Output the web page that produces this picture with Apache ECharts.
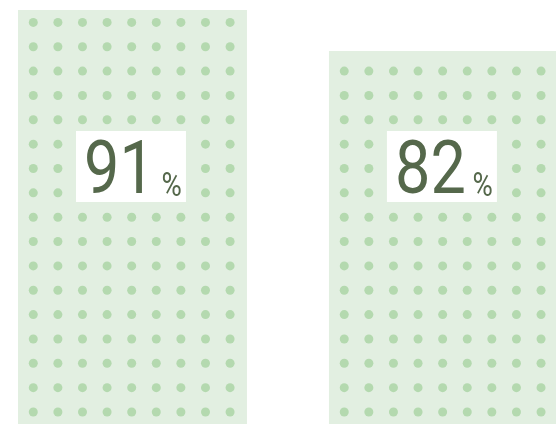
<!DOCTYPE html>
<html>
<head>
<meta charset="utf-8">
<script src="https://cdn.jsdelivr.net/npm/echarts@6/dist/echarts.min.js"></script>
<style>
  html, body { margin: 0; padding: 0; background: #fff; }
  #chart { width: 556px; height: 424px; }
</style>
</head>
<body>
<div id="chart"></div>
<script>
// data
const categories = ['A', 'B']
const values = [91, 82]
const labelTexts = ['91', '82']

// look
const BAR_BG = '#e2efe1'
const DOT_COLOR = '#b4d9af'
const TEXT_COLOR = '#55684b'
const FONT = 'Roboto, "DejaVu Sans Condensed", sans-serif'
const BAR_RATIO = 229 / 311
const DOT_R = 4.5
const DOT_DX = 24.6
const DOT_DY = 24.35
const BOX_W = 110
const BOX_H = 71
const BOX_TOP = 131

const chart = echarts.init(document.getElementById('chart'))

const renderBar = (params, api) => {
  const i = api.value(0)
  const v = api.value(1)
  const base = api.coord([i, 0])
  const top = api.coord([i, v])
  const w = api.size([1, 0])[0] * BAR_RATIO
  const x0 = base[0] - w / 2
  const x1 = base[0] + w / 2
  const y0 = top[1]
  const y1 = base[1]

  const children = [{
    type: 'rect',
    shape: { x: x0, y: y0, width: w, height: y1 - y0 },
    style: { fill: BAR_BG }
  }]

  // dot grid: columns from the left edge, rows from the bottom
  for (let cy = y1 - 12; cy - DOT_R >= y0 + 6; cy -= DOT_DY) {
    for (let cx = x0 + 15.3; cx + DOT_R <= x1 - 8; cx += DOT_DX) {
      children.push({
        type: 'circle',
        shape: { cx, cy, r: DOT_R },
        style: { fill: DOT_COLOR }
      })
    }
  }

  const cx = base[0] - 1.5
  children.push({
    type: 'rect',
    shape: { x: cx - BOX_W / 2, y: BOX_TOP, width: BOX_W, height: BOX_H },
    style: { fill: '#fff' }
  })
  children.push({
    type: 'text',
    x: cx + 2,
    y: BOX_TOP + BOX_H / 2 + 8,
    scaleX: 0.84,
    style: {
      x: 0,
      y: 0,
      text: `{n|${labelTexts[params.dataIndex]}}{p|%}`,
      align: 'center',
      verticalAlign: 'middle',
      rich: {
        n: { fontSize: 75, fontWeight: 400, fontFamily: FONT, fill: TEXT_COLOR, verticalAlign: 'bottom' },
        p: { fontSize: 33, fontWeight: 400, fontFamily: FONT, fill: TEXT_COLOR, verticalAlign: 'bottom', padding: [0, 0, 8, 8] }
      }
    }
  })

  return { type: 'group', children }
}

chart.setOption({
  animation: false,
  grid: { left: 0, right: 0, top: 10, bottom: 0 },
  // bar centres sit at x = 0 and 1; the window shows the same slice of that axis as the reference
  xAxis: { type: 'value', min: -0.426, max: 1.362, show: false },
  yAxis: { type: 'value', min: 0, max: 91, show: false },
  series: [{
    type: 'custom',
    name: categories.join(' / '),
    renderItem: renderBar,
    encode: { x: 0, y: 1 },
    data: values.map((v, i) => [i, v])
  }]
})
</script>
</body>
</html>
